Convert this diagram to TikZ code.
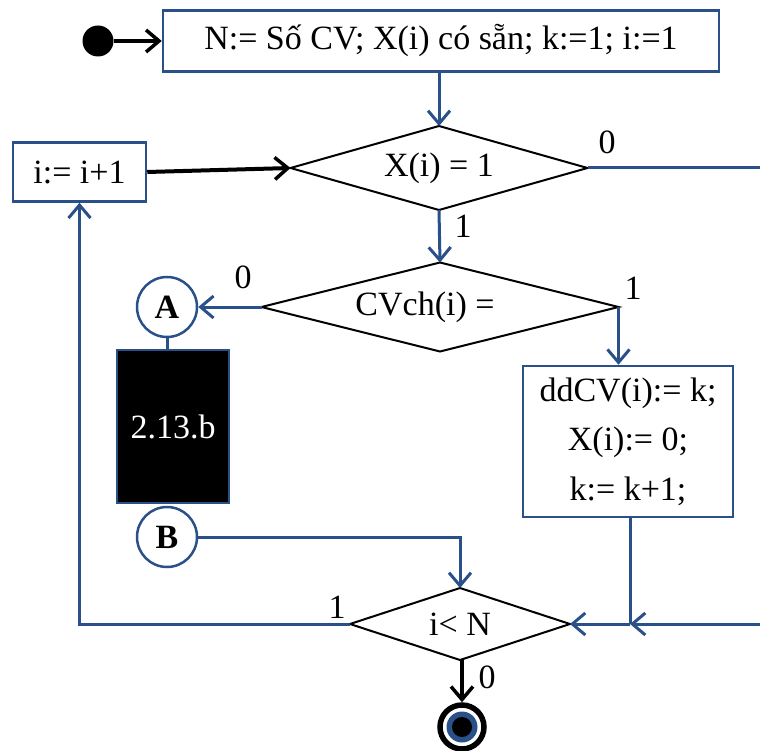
\documentclass[tikz,border=0pt]{standalone}
\usepackage{fontspec}
\setmainfont{Liberation Serif}
\usetikzlibrary{shapes.geometric,arrows.meta,calc}
\definecolor{fblue}{RGB}{42,80,138}
\begin{document}
\begin{tikzpicture}[x=1pt,y=-1pt,
  txt/.style={font=\fontsize{34}{40}\selectfont},
  bbox/.style={draw=fblue,line width=2.5pt,fill=white,inner sep=0pt,txt},
  dec/.style={diamond,draw=black,line width=2pt,inner sep=0pt,outer sep=0pt},
  conn/.style={circle,draw=fblue,line width=2.5pt,minimum size=60pt,inner sep=0pt,font=\fontsize{34}{40}\selectfont\bfseries},
  bl/.style={draw=fblue,line width=3pt},
  ba/.style={bl,-{Straight Barb[length=13pt,width=22pt,line width=3pt]}},
  ka/.style={draw=black,line width=4pt,-{Straight Barb[length=13pt,width=22pt,line width=3.5pt]}},
  lab/.style={txt}]
\useasboundingbox (0,0) rectangle (760,751);
% nodes
\node[circle,fill=black,minimum width=29pt,minimum height=31pt,inner sep=0pt] (start) at (98,41) {};
\node[bbox,minimum width=556pt,minimum height=61pt] (init) at (441,41) {N:= Số CV; X(i) có sẵn; k:=1; i:=1};
\node[dec,minimum width=297pt,minimum height=84pt] (d1) at (439,168) {};
\node[txt] (t1) at (d1.center) {X(i) = 1};
\node[bbox,minimum width=133pt,minimum height=59pt] (inc) at (79.5,172) {i:= i+1};
\node[dec,minimum width=357pt,minimum height=89pt] (d2) at (440,307) {};
\node[txt] (t2) at (425,307) {CVch(i) =};
\node[conn] (A) at (167,307) {A};
\node[draw=fblue,line width=2.5pt,fill=black,text=white,minimum width=112pt,minimum height=153pt,inner sep=0pt,txt] (sub) at (173,426.5) {2.13.b};
\node[conn] (B) at (167,537) {B};
\node[bbox,minimum width=210pt,minimum height=151pt,align=center,font=\fontsize{34}{49.5}\selectfont] (dd) at (628,441.5) {ddCV(i):= k;\\X(i):= 0;\\k:= k+1;};
\node[dec,minimum width=220pt,minimum height=72pt] (d3) at (460,624) {};
\node[txt] (t3) at (d3.center) {i< N};
\node[circle,draw=black,line width=5.5pt,minimum size=44pt,inner sep=0pt] (end) at (462,727) {};
\fill[fblue] (end.center) circle (15.5pt);
\fill[black] (end.center) circle (10pt);
% coordinates
\coordinate (r1) at (760,168);
\coordinate (r3) at (760,624);
\coordinate (j) at (630,624);
% connectors
\draw[ka] (start) -- (init.west);
\draw[ba] (init.south -| d1.north) -- (d1.north);
\draw[ka] (inc.east) -- (d1.west);
\draw[bl] (d1.east) -- (r1);
\draw[ba] (d1.south) -- (d2.north);
\draw[ba] (d2.west) -- (A.east);
\draw[ba] (d2.east) -- (d2.east |- dd.north);
\draw[bl] (A.south) -- (A.south |- sub.north);
\draw[ba] (B.east) -| (d3.north);
\draw[bl] (dd.south -| j) -- (j);
\draw[ba] (r3) -- (j);
\draw[ba] (j) -- (d3.east);
\draw[ba] (d3.west) -| (inc.south);
\draw[ka] (d3.south -| end.north) -- (end.north);
% labels
\node[lab] (l1) at (607,142) {0};
\node[lab] (l2) at (463,226) {1};
\node[lab] (l3) at (243,277) {0};
\node[lab] (l4) at (633,288) {1};
\node[lab] (l5) at (337,607) {1};
\node[lab] (l6) at (487,677) {0};
\end{tikzpicture}
\end{document}
